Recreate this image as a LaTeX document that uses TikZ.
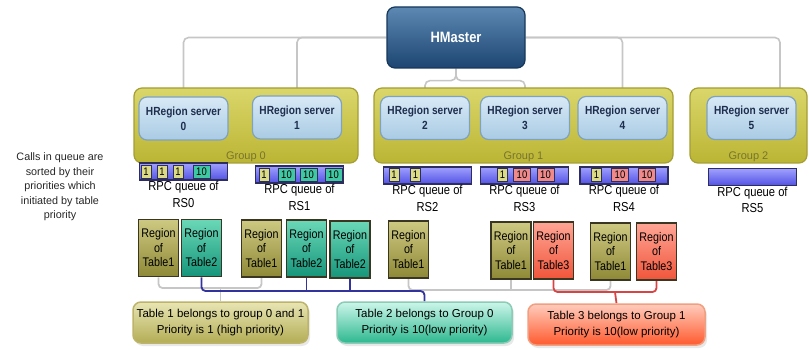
\documentclass[tikz,border=0pt]{standalone}
\usepackage{fontspec}
\setmainfont{Liberation Sans}
\newfontfamily\narrowsans{Liberation Sans}[FakeStretch=0.86]
\usetikzlibrary{positioning,shadows}

\definecolor{grptop}{HTML}{DAD66A}
\definecolor{grpbot}{HTML}{BBB534}
\definecolor{grpedge}{HTML}{A49E34}
\definecolor{grptext}{HTML}{77742F}
\definecolor{srvtop}{HTML}{D8E9F6}
\definecolor{srvbot}{HTML}{A9CBE4}
\definecolor{srvedge}{HTML}{7FA2BE}
\definecolor{srvtext}{HTML}{1E2E4E}
\definecolor{mstop}{HTML}{5C88B2}
\definecolor{msbot}{HTML}{1D4672}
\definecolor{msedge}{HTML}{17375A}
\definecolor{qtop}{HTML}{A0A0FF}
\definecolor{qbot}{HTML}{5252E4}
\definecolor{qedge}{HTML}{2E2E5E}
\definecolor{itone}{HTML}{DCDB85}
\definecolor{itteal}{HTML}{3FC9A2}
\definecolor{itred}{HTML}{F08A8A}
\definecolor{regedge}{HTML}{3A3622}
\definecolor{tonetop}{HTML}{CEC982}
\definecolor{tonebot}{HTML}{8E8936}
\definecolor{ttwotop}{HTML}{6AD8B7}
\definecolor{ttwobot}{HTML}{16957A}
\definecolor{tthrtop}{HTML}{FFA595}
\definecolor{tthrbot}{HTML}{F0553A}
\definecolor{ionetop}{HTML}{E8E5B4}
\definecolor{ionebot}{HTML}{B3AD55}
\definecolor{ioneedge}{HTML}{BDB46A}
\definecolor{itwotop}{HTML}{CCF6EA}
\definecolor{itwobot}{HTML}{2DB88F}
\definecolor{itwoedge}{HTML}{8CCBB5}
\definecolor{ithrtop}{HTML}{FFCCBC}
\definecolor{ithrbot}{HTML}{FF5A2E}
\definecolor{ithredge}{HTML}{F0A080}
\definecolor{linkgray}{HTML}{C6C6C6}
\definecolor{linkblue}{HTML}{33339E}
\definecolor{linkred}{HTML}{D84444}

\pgfdeclarelayer{back}
\pgfsetlayers{back,main}

\begin{document}
\begin{tikzpicture}[x=1pt,y=-1pt,
  group/.style={draw=grpedge, line width=1.2pt, rounded corners=8pt,
    top color=grptop, bottom color=grpbot, minimum height=75pt, inner sep=0pt},
  grouplabel/.style={text=grptext, inner sep=1.5pt, font=\fontsize{11}{12}\selectfont},
  server/.style={draw=srvedge, line width=1.2pt, rounded corners=8pt,
    top color=srvtop, bottom color=srvbot, minimum width=89pt, minimum height=43pt,
    align=center, text=srvtext, font=\narrowsans\fontsize{11.8}{15}\selectfont\bfseries},
  master/.style={draw=msedge, line width=1.2pt, rounded corners=8pt,
    top color=mstop, bottom color=msbot, minimum width=138pt, minimum height=61pt,
    text=white, font=\narrowsans\fontsize{15}{16}\selectfont\bfseries},
  queue/.style={draw=qedge, line width=1.2pt, top color=qtop, bottom color=qbot,
    minimum width=88pt, minimum height=17pt, inner sep=0pt},
  item/.style={draw=qedge, line width=0.8pt, minimum height=13pt, inner sep=0pt,
    font=\narrowsans\fontsize{11}{11}\selectfont},
  one/.style={item, fill=itone, minimum width=10pt},
  tenteal/.style={item, fill=itteal, minimum width=17pt},
  tenred/.style={item, fill=itred, minimum width=17pt},
  qlabel/.style={align=center, inner sep=0.5pt, font=\narrowsans\fontsize{13}{16.5}\selectfont},
  region/.style={draw=regedge, line width=1.5pt, minimum width=40pt, minimum height=57pt,
    inner sep=1pt, align=center, font=\narrowsans\fontsize{12.5}{14.5}\selectfont},
  tone/.style={region, top color=tonetop, bottom color=tonebot},
  ttwo/.style={region, top color=ttwotop, bottom color=ttwobot},
  tthree/.style={region, top color=tthrtop, bottom color=tthrbot},
  info/.style={line width=1.5pt, rounded corners=8pt, minimum width=175pt, minimum height=41pt,
    align=center, font=\fontsize{11.5}{16}\selectfont,
    drop shadow={shadow xshift=2pt, shadow yshift=-3pt, fill=black!18}},
  link/.style={draw=linkgray, line width=1.6pt, rounded corners=5pt},
  tonelink/.style={draw=linkgray, line width=1.8pt, rounded corners=4pt},
  ttwolink/.style={draw=linkblue, line width=1.8pt, rounded corners=4pt},
  tthreelink/.style={draw=linkred, line width=1.8pt, rounded corners=4pt}]

  \useasboundingbox (0,0) rectangle (809,350);

  % Master
  \node[master] (master) at (456,37.5) {HMaster};

  % Groups
  \node[group, minimum width=224pt] (grp0) at (246,125.5) {};
  \node[group, minimum width=299pt] (grp1) at (523.5,125.5) {};
  \node[group, minimum width=117pt] (grp2) at (748.5,125.5) {};
  \node[grouplabel, above=0pt of grp0.south] (grp0lab) {Group 0};
  \node[grouplabel, above=0pt of grp1.south] (grp1lab) {Group 1};
  \node[grouplabel, above=0pt of grp2.south] (grp2lab) {Group 2};

  % Region servers
  \node[server] (rs0) at (183.5,118.5) {HRegion server\\0};
  \node[server] (rs1) at (297,117.5) {HRegion server\\1};
  \node[server] (rs2) at (425,118) {HRegion server\\2};
  \node[server] (rs3) at (525,118) {HRegion server\\3};
  \node[server] (rs4) at (622.5,118) {HRegion server\\4};
  \node[server] (rs5) at (751.5,118) {HRegion server\\5};

  % Master to servers
  \begin{pgfonlayer}{back}
    \draw[link] (master.west) -| (rs0.north);
    \draw[link] (master.west) -| (rs1.north);
    \draw[link] (master.south) -- ++(0,12) -| (rs2.north);
    \draw[link] (master.south) -- ++(0,12) -| (rs3.north);
    \draw[link] (master.east) -| (rs4.north);
    \draw[link] (master.east) -| ([xshift=28.5pt]rs5.north);
  \end{pgfonlayer}

  % RPC queues
  \node[queue] (q0) at (183.5,171.5) {};
  \node[queue] (q1) at (299.5,174.5) {};
  \node[queue] (q2) at (427.5,175.5) {};
  \node[queue] (q3) at (524.5,175.5) {};
  \node[queue] (q4) at (624,175.5) {};
  \node[queue] (q5) at (752.5,177) {};

  \foreach \x/\t/\s [count=\i] in {146/1/one,162/1/one,178/1/one,201.5/10/tenteal}
    \node[\s] (q0i\i) at (\x,171.5) {\t};
  \foreach \x/\t/\s [count=\i] in {264/1/one,286.5/10/tenteal,308.5/10/tenteal,333.5/10/tenteal}
    \node[\s] (q1i\i) at (\x,174.5) {\t};
  \foreach \x/\t/\s [count=\i] in {394/1/one,415.5/1/one}
    \node[\s] (q2i\i) at (\x,175) {\t};
  \foreach \x/\t/\s [count=\i] in {502.5/1/one,522/10/tenred,545.5/10/tenred}
    \node[\s] (q3i\i) at (\x,175) {\t};
  \foreach \x/\t/\s [count=\i] in {596.5/1/one,620/10/tenred,647/10/tenred}
    \node[\s] (q4i\i) at (\x,175) {\t};

  \foreach \i in {0,...,5}
    \node[qlabel, below=0pt of q\i] (q\i lab) {RPC queue of\\RS\i};

  \node[align=center, text=black!85, font=\fontsize{10.8}{14.5}\selectfont] (note) at (60,187)
    {Calls in queue are\\sorted by their\\priorities which\\initiated by table\\priority};

  % Regions
  \node[tone] (r0a) at (158.5,248) {Region\\of\\Table1};
  \node[ttwo] (r0b) at (201.5,248) {Region\\of\\Table2};
  \node[tone] (r1a) at (261.5,248.5) {Region\\of\\Table1};
  \node[ttwo] (r1b) at (306.5,248.5) {Region\\of\\Table2};
  \node[ttwo] (r1c) at (350,249.5) {Region\\of\\Table2};
  \node[tone] (r2a) at (408.5,249.5) {Region\\of\\Table1};
  \node[tone] (r3a) at (511,250.5) {Region\\of\\Table1};
  \node[tthree] (r3b) at (553.5,250.5) {Region\\of\\Table3};
  \node[tone] (r4a) at (610.5,251.5) {Region\\of\\Table1};
  \node[tthree] (r4b) at (656.5,251.5) {Region\\of\\Table3};

  % Table info
  \node[info, draw=ioneedge, top color=ionetop, bottom color=ionebot] (info1) at (220.5,322.5)
    {Table 1 belongs to group 0 and 1\\Priority is 1 (high priority)};
  \node[info, draw=itwoedge, top color=itwotop, bottom color=itwobot] (info2) at (424.5,322.5)
    {Table 2 belongs to Group 0\\Priority is 10(low priority)};
  \node[info, draw=ithredge, top color=ithrtop, bottom color=ithrbot, minimum width=177pt] (info3) at (616.5,324.5)
    {Table 3 belongs to Group 1\\Priority is 10(low priority)};

  % Table links
  \coordinate (bus1) at (220.5,288);
  \coordinate (bus2) at (424.5,291);
  \coordinate (bus3) at (615,292);
  \coordinate (bus4) at (511,290);
  \begin{pgfonlayer}{back}
    \draw[tonelink] (r0a.south) |- (bus1) -| (r1a.south);
    \draw[tonelink] (bus1) -- (info1.north);
    \draw[tonelink] (r2a.south) |- (bus4) -| (r4a.south);
    \draw[tonelink] (r3a.south) -- (bus4);
    \draw[ttwolink] (r0b.south) |- (bus2) -- (info2.north);
    \draw[ttwolink] (r1b.south) -- (r1b.south |- bus2);
    \draw[ttwolink] (r1c.south) -- (r1c.south |- bus2);
    \draw[tthreelink] (r3b.south) |- (bus3) -| (r4b.south);
    \draw[tthreelink] (bus3) -- (info3.north);
  \end{pgfonlayer}
\end{tikzpicture}
\end{document}
